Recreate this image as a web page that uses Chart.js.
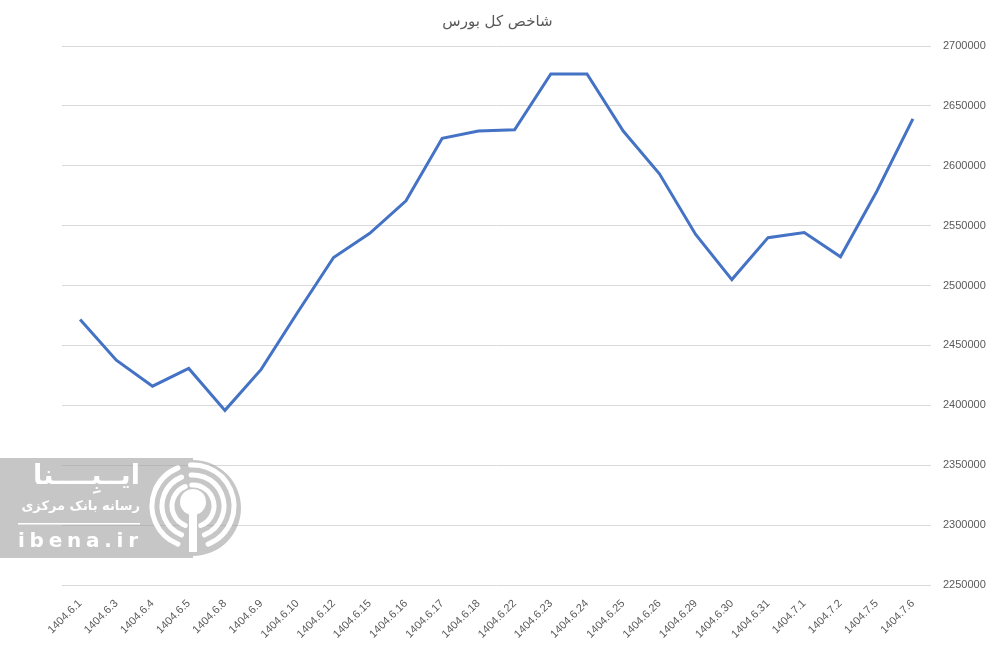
<!DOCTYPE html>
<html>
<head>
<meta charset="utf-8">
<script src="https://cdn.jsdelivr.net/npm/chart.js@4"></script>
<style>
  html, body { margin: 0; padding: 0; background: #fff; }
  #wrap { width: 995px; height: 646px; }
</style>
</head>
<body>
<div id="wrap"><canvas id="myChart" width="995" height="646"></canvas></div>
<script>
// dates (solar calendar)
var labels = ['1404.6.1', '1404.6.3', '1404.6.4', '1404.6.5', '1404.6.8', '1404.6.9', '1404.6.10', '1404.6.12',
  '1404.6.15', '1404.6.16', '1404.6.17', '1404.6.18', '1404.6.22', '1404.6.23', '1404.6.24', '1404.6.25',
  '1404.6.26', '1404.6.29', '1404.6.30', '1404.6.31', '1404.7.1', '1404.7.2', '1404.7.5', '1404.7.6'];
// index values
var index = [2471600, 2437700, 2416000, 2430800, 2395800, 2430000, 2477300, 2523400,
  2543600, 2570700, 2623000, 2629100, 2630000, 2676700, 2676700, 2629000,
  2593300, 2542700, 2505000, 2540000, 2544200, 2524000, 2578500, 2639100];
// y ticks
var yMin = 2250000, yMax = 2700000, yStep = 50000;

var ctx = document.getElementById('myChart').getContext('2d');

// fit a text into a width by picking the font size
function fitFont(c, txt, w, maxSize) {
  var size = maxSize;
  c.font = 'bold ' + size + 'px "DejaVu Sans"';
  while (c.measureText(txt).width > w && size > 6) {
    size -= 0.5;
    c.font = 'bold ' + size + 'px "DejaVu Sans"';
  }
}

// watermark box bottom left
var watermark = {
  id: 'watermark',
  afterDraw: function (chart) {
    var c = chart.ctx;
    c.save();
    c.fillStyle = 'rgba(160,160,160,0.6)';
    c.beginPath();
    c.rect(0, 458, 193, 100);
    c.moveTo(241, 508);
    c.arc(193, 508, 48, 0, Math.PI * 2);
    c.fill();
    // logo
    c.strokeStyle = '#fff';
    c.fillStyle = '#fff';
    c.lineCap = 'round';
    var rs = [21, 31, 41];
    c.lineWidth = 5;
    rs.forEach(function (r) {
      c.beginPath(); c.arc(193, 506, r, Math.PI * 0.62, Math.PI * 1.38); c.stroke();
      c.beginPath(); c.arc(193, 506, r, -Math.PI * 0.38, Math.PI * 0.38); c.stroke();
      c.beginPath(); c.arc(193, 506, r, -Math.PI * 0.86, -Math.PI * 0.64); c.stroke();
      c.beginPath(); c.arc(193, 506, r, -Math.PI * 0.36 - 0.5, -Math.PI * 0.36 - 0.1); c.stroke();
    });
    c.beginPath(); c.arc(193, 502, 13, 0, Math.PI * 2); c.fill();
    c.fillRect(189, 508, 8, 44);
    // texts
    c.textAlign = 'right';
    c.direction = 'rtl';
    c.textBaseline = 'alphabetic';
    var t1 = 'ایــبِــــنا';
    fitFont(c, t1, 120, 27);
    c.fillText(t1, 140, 484);
    c.textBaseline = 'middle';
    var t2 = 'رسانه بانک مرکزی';
    fitFont(c, t2, 120, 18);
    c.fillText(t2, 140, 507);
    c.fillRect(18, 523, 122, 1.5);
    c.direction = 'ltr';
    c.textAlign = 'left';
    c.font = 'bold 20px "DejaVu Sans"';
    var s = 'ibena.ir', x = 18;
    var tw = 0;
    for (var i = 0; i < s.length; i++) tw += c.measureText(s[i]).width;
    var gap = (120 - tw) / (s.length - 1);
    for (var j = 0; j < s.length; j++) {
      c.fillText(s[j], x, 542);
      x += c.measureText(s[j]).width + gap;
    }
    c.restore();
  }
};

var myChart = new Chart(ctx, {
  type: 'line',
  data: {
    labels: labels,
    datasets: [{
      label: 'شاخص کل بورس',
      data: index,
      xAxisID: 'x',
      yAxisID: 'y',
      borderColor: '#4472C4',
      borderWidth: 3,
      pointRadius: 0,
      tension: 0,
      fill: false
    }]
  },
  options: {
    responsive: false,
    animation: false,
    layout: { padding: 0 },
    plugins: {
      legend: { display: false },
      tooltip: { enabled: false },
      title: {
        display: true,
        text: 'شاخص کل بورس',
        color: '#595959',
        font: { family: 'DejaVu Sans', size: 15, weight: 'normal' },
        padding: { top: 13, bottom: 15 }
      }
    },
    scales: {
      x: {
        offset: true,
        grid: { display: false },
        border: { display: false },
        ticks: {
          color: '#595959',
          font: { family: 'Liberation Sans', size: 11 },
          minRotation: 45,
          maxRotation: 45,
          autoSkip: false,
          padding: 4
        },
        afterFit: function (axis) { axis.height = 61; }
      },
      y: {
        position: 'right',
        min: yMin,
        max: yMax,
        grid: { color: '#d9d9d9', lineWidth: 1, drawTicks: false },
        border: { display: false },
        ticks: {
          stepSize: yStep,
          color: '#595959',
          font: { family: 'Liberation Sans', size: 11 },
          padding: 12,
          callback: function (v) { return String(v); }
        },
        afterFit: function (axis) { axis.width = 64; }
      },
      // empty left spacer so the plot starts at x=62
      spacer: {
        type: 'linear',
        position: 'left',
        min: 0,
        max: 1,
        grid: { display: false },
        border: { display: false },
        ticks: { display: false },
        afterFit: function (axis) { axis.width = 62; }
      }
    }
  },
  plugins: [watermark]
});
</script>
</body>
</html>
